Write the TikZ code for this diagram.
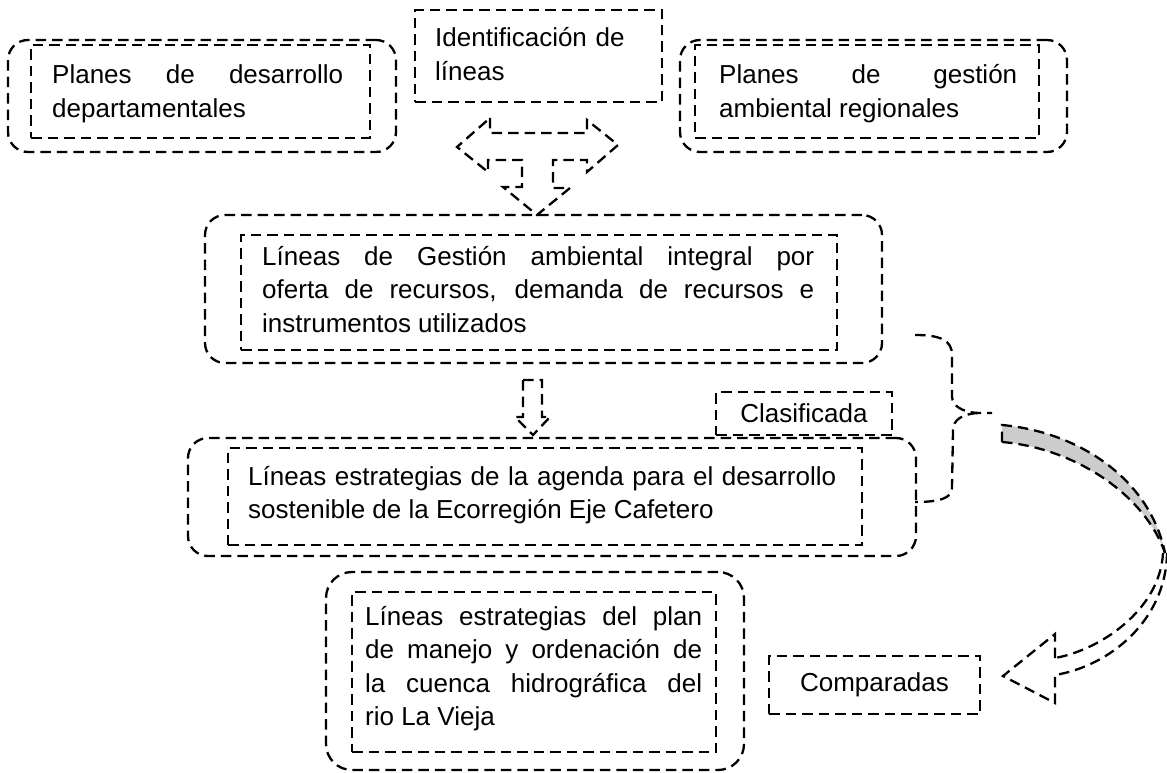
\documentclass[tikz,border=0pt]{standalone}
\usepackage{fontspec}
\setmainfont{Liberation Sans}
\hyphenpenalty=10000
\exhyphenpenalty=10000
\tolerance=10000
\newcommand{\bigtext}{\fontsize{26}{33.5}\selectfont}
\begin{document}
\begin{tikzpicture}[x=1pt,y=-1pt,
  dsh/.style={line width=2.3pt, dash pattern=on 10.5pt off 6pt},
  outerbox/.style={dsh, rounded corners=20pt, draw, inner sep=0pt},
  innerbox/.style={dsh, draw, inner sep=0pt},
  txt/.style={font=\bigtext, inner sep=0pt, anchor=base west},
  jtxt/.style={txt, align=justify},
  shapeline/.style={dsh, line join=miter}
]
\useasboundingbox (0,0) rectangle (1167,773);

% Box 1
\node[outerbox, minimum width=388pt, minimum height=112pt] (b1o) at (202,96) {};
\node[innerbox, minimum width=339pt, minimum height=93pt] (b1i) at (200.5,91.5) {};
\node[jtxt, text width=291pt] (b1t) at (52,84) {Planes de desarrollo\linebreak departamentales};

% Box 2
\node[innerbox, minimum width=247pt, minimum height=92pt] (b2) at (538.5,56) {};
\node[txt, text width=215pt, align=left] (b2t) at (435,47) {Identificación de\\líneas};

% Box 3
\node[outerbox, minimum width=387pt, minimum height=112pt] (b3o) at (873.5,96) {};
\node[innerbox, minimum width=344pt, minimum height=93pt] (b3i) at (867,91.5) {};
\node[jtxt, text width=298pt] (b3t) at (719,84) {Planes de gestión\linebreak ambiental regionales};

% Left-right-down arrow
\draw[shapeline] (490,118) -- (490,133) -- (587,133) -- (587,120) -- (618,145) -- (587,172) -- (587,160) -- (553,160) -- (553,188) -- (570,188) -- (537,215) -- (503,187) -- (522,187) -- (522,160) -- (488,160) -- (488,172) -- (457,147) -- cycle;

% Box 4
\node[outerbox, minimum width=677pt, minimum height=148pt] (b4o) at (543.5,289) {};
\node[innerbox, minimum width=596pt, minimum height=115pt] (b4i) at (539,292.5) {};
\node[jtxt, text width=552pt] (b4t) at (262,265) {Líneas de Gestión ambiental integral por\linebreak oferta de recursos, demanda de recursos e\linebreak instrumentos utilizados};

% Down arrow
\draw[shapeline] (523,380) -- (542,380) -- (542,417) -- (550,417) -- (533,435) -- (515,417) -- (523,417) -- cycle;

% Clasificada
\node[innerbox, minimum width=176pt, minimum height=43pt, font=\bigtext] (cl) at (804,413.5) {Clasificada};

% Box 5
\node[outerbox, minimum width=728pt, minimum height=118pt] (b5o) at (552,497) {};
\node[innerbox, minimum width=634pt, minimum height=97pt] (b5i) at (545,496.5) {};
\node[jtxt, text width=588pt] (b5t) at (248,485) {Líneas estrategias de la agenda para el desarrollo\linebreak sostenible de la Ecorregión Eje Cafetero};

% Box 6
\node[outerbox, rounded corners=26pt, minimum width=418pt, minimum height=198pt] (b6o) at (535,671) {};
\node[innerbox, minimum width=364pt, minimum height=160pt] (b6i) at (534,672) {};
\node[jtxt, text width=337pt] (b6t) at (365,625) {Líneas estrategias del plan\linebreak de manejo y ordenación de\linebreak la cuenca hidrográfica del\linebreak rio La Vieja};

% Comparadas
\node[innerbox, minimum width=211pt, minimum height=58pt, font=\bigtext] (cp) at (874.5,685) {Comparadas};

% Brace
\coordinate (bt) at (978,413);
\draw[dsh] (915,335) .. controls (940,335) and (952,340) .. (952,355) -- (952,396) .. controls (952,406) and (962,412) .. (bt) -- (992,413);
\draw[dsh] (bt) .. controls (962,414) and (953,420) .. (953,430) -- (952,488) .. controls (952,498) and (940,502) .. (915,502);

% Curved arrow: shaded back band
\fill[black!20] (1002,425) .. controls (1080,432) and (1150,480) .. (1165,553) .. controls (1145,495) and (1075,448) .. (1002,442) -- cycle;
\draw[dsh] (1002,442) -- (1002,425) .. controls (1080,432) and (1150,480) .. (1165,553);
\draw[dsh] (1002,442) .. controls (1075,448) and (1145,495) .. (1165,553);
% front band
\draw[dsh] (1163,553) .. controls (1160,610) and (1100,650) .. (1055,658);
\draw[dsh] (1167,553) .. controls (1166,620) and (1110,666) .. (1055,675);
% head
\draw[dsh] (1055,658) -- (1055,634) -- (1003,676) -- (1055,703) -- (1055,675);
\end{tikzpicture}
\end{document}
